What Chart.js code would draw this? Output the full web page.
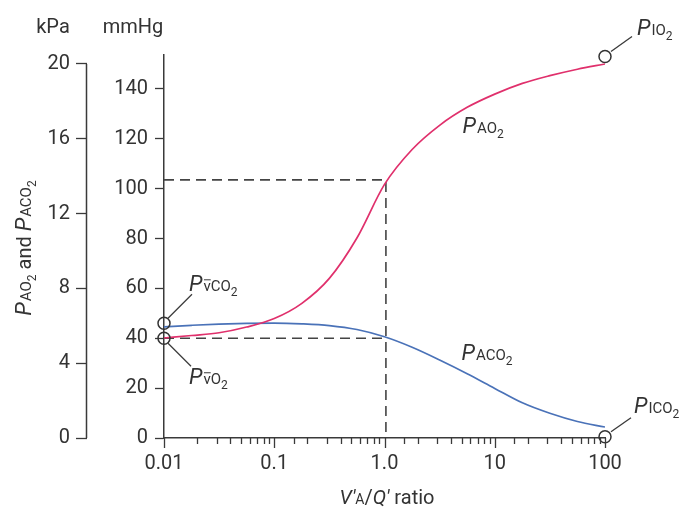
<!DOCTYPE html>
<html>
<head>
<meta charset="utf-8">
<title>Alveolar gas tensions vs V/Q ratio</title>
<script src="https://cdn.jsdelivr.net/npm/chart.js@4.4.1/dist/chart.umd.min.js"></script>
<style>
  html, body { margin: 0; padding: 0; background: #fff; }
  #wrap { width: 679px; height: 512px; }
</style>
</head>
<body>
<div id="wrap"><canvas id="chart" width="679" height="512"></canvas></div>
<script>
// ─── Data ───────────────────────────────────────────────────

// V'A/Q' ratio, read at quarter-decade steps
const ratio = [0.01, 0.0178, 0.0316, 0.0562, 0.1, 0.178, 0.316, 0.562, 1,
               1.78, 3.16, 5.62, 10, 17.8, 31.6, 56.2, 100];

// P_AO2 (mmHg)
const pao2 = [40.1, 41.1, 42.2, 44.5, 47.9, 54.0, 64.0, 80.2, 101.7,
              115.7, 125.4, 132.6, 137.9, 142.2, 145.3, 147.9, 150];

// P_ACO2 (mmHg)
const paco2 = [44.6, 45.2, 45.7, 46.0, 46.1, 45.8, 45.1, 43.5, 40.6,
               36.4, 31.3, 25.8, 19.9, 14.1, 9.9, 6.6, 4.4];

// open circles: mixed venous CO2 / O2, inspired O2 / CO2
const circleRatio = [0.01, 0.01, 100, 100];
const circleValue = [46, 40, 153, 0.5];

// dashed guides at V'A/Q' ≈ 1
const guideRatio = 1.03;
const guideHigh = 103.5;
const guideLow = 40;

// axis ticks
const xMajorTicks = [0.01, 0.1, 1, 10, 100];
const xMajorLabels = ['0.01', '0.1', '1.0', '10', '100'];
const mmHgTicks = [0, 20, 40, 60, 80, 100, 120, 140];
const kPaTicks = [0, 4, 8, 12, 16, 20];
const mmHgMax = 153.6;
const MM_PER_KPA = 7.50062;

// ─── Style ──────────────────────────────────────────────────

const FONT = 'Roboto, "DejaVu Sans", sans-serif';
const INK = '#333';
const AXIS = '#3a3a3a';
const PINK = '#e0306c';
const BLUE = '#4a72b8';

const P = t => ({ t, font: `italic 22px ${FONT}`, dx: 1 });
const SM = t => ({ t, font: `15px ${FONT}` });
const SUB = t => ({ t, font: `12px ${FONT}`, dy: 5 });
const VBAR = { t: 'v', font: `15px ${FONT}`, bar: 11.5 };

function richText(ctx, parts, x, y, draw = true) {
  let cx = x;
  for (const p of parts) {
    ctx.font = p.font;
    const w = ctx.measureText(p.t).width;
    if (draw) {
      ctx.fillText(p.t, cx, y + (p.dy || 0));
      if (p.bar) {
        ctx.beginPath();
        ctx.moveTo(cx + 0.5, y - p.bar);
        ctx.lineTo(cx + w, y - p.bar);
        ctx.stroke();
      }
    }
    cx += w + (p.dx || 0);
  }
  return cx - x;
}

function isMajor(v) {
  const l = Math.log10(v);
  return Math.abs(l - Math.round(l)) < 1e-6;
}

function majorLabel(v) {
  const i = xMajorTicks.findIndex(t => Math.abs(Math.log10(t) - Math.log10(v)) < 1e-6);
  return i >= 0 ? xMajorLabels[i] : '';
}

// ─── Decorations plugin ─────────────────────────────────────

// leader lines + labels, offsets in px from the circle centre
const circleLabels = [
  { parts: [P('P'), VBAR, SM('CO'), SUB('2')], from: [4, -5], to: [28, -29], text: [25, -32] },
  { parts: [P('P'), VBAR, SM('O'), SUB('2')], from: [4, 5], to: [27, 28], text: [25, 46] },
  { parts: [P('P'), SM('IO'), SUB('2')], from: [6, -5], to: [27, -20], text: [32, -21] },
  { parts: [P('P'), SM('ICO'), SUB('2')], from: [6, -5], to: [26, -19], text: [29, -24] },
];

const curveLabels = [
  { parts: [P('P'), SM('AO'), SUB('2')], at: [5.1, 122.3] },
  { parts: [P('P'), SM('ACO'), SUB('2')], at: [5.0, 31.3] },
];

const decorations = {
  id: 'decorations',
  afterDraw(chart) {
    const { ctx, scales } = chart;
    const xs = scales.x, ys = scales.y, ks = scales.kpa;
    ctx.save();
    ctx.strokeStyle = AXIS;
    ctx.fillStyle = INK;
    ctx.lineWidth = 1.3;

    // x tick marks (minor short, major long)
    for (const t of xs.ticks) {
      const px = Math.round(xs.getPixelForValue(t.value)) + 0.5;
      ctx.beginPath();
      ctx.moveTo(px, xs.top);
      ctx.lineTo(px, xs.top + (isMajor(t.value) ? 10 : 6));
      ctx.stroke();
    }

    // kPa axis line, 0..20 only
    ctx.lineWidth = 1.5;
    ctx.beginPath();
    ctx.moveTo(ks.right - 0.5, ks.getPixelForValue(20));
    ctx.lineTo(ks.right - 0.5, ks.getPixelForValue(0));
    ctx.stroke();

    // leader lines and circle labels
    ctx.lineWidth = 1.3;
    ctx.textBaseline = 'alphabetic';
    ctx.textAlign = 'left';
    circleLabels.forEach((lab, i) => {
      const cx = xs.getPixelForValue(circleRatio[i]);
      const cy = ys.getPixelForValue(circleValue[i]);
      ctx.beginPath();
      ctx.moveTo(cx + lab.from[0], cy + lab.from[1]);
      ctx.lineTo(cx + lab.to[0], cy + lab.to[1]);
      ctx.stroke();
      ctx.lineWidth = 1;
      richText(ctx, lab.parts, cx + lab.text[0], cy + lab.text[1]);
      ctx.lineWidth = 1.3;
    });

    curveLabels.forEach(lab => {
      richText(ctx, lab.parts, xs.getPixelForValue(lab.at[0]), ys.getPixelForValue(lab.at[1]));
    });

    // unit headings
    ctx.font = `20px ${FONT}`;
    ctx.textAlign = 'center';
    ctx.fillText('kPa', 53, 33);
    ctx.fillText('mmHg', 133, 33);
    ctx.textAlign = 'left';

    // y title (rotated)
    const yTitle = [P('P'), SM('AO'), SUB('2'), { t: ' and ', font: `20px ${FONT}` }, P('P'), SM('ACO'), SUB('2')];
    ctx.save();
    ctx.translate(31, 248);
    ctx.rotate(-Math.PI / 2);
    const yw = richText(ctx, yTitle, 0, 0, false);
    richText(ctx, yTitle, -yw / 2, 0);
    ctx.restore();

    // x title
    const xTitle = [
      { t: 'V', font: `italic 20px ${FONT}` },
      { t: "'", font: `italic 20px ${FONT}` },
      { t: 'A', font: `14px ${FONT}` },
      { t: '/', font: `20px ${FONT}` },
      { t: 'Q', font: `italic 20px ${FONT}` },
      { t: "'", font: `italic 20px ${FONT}` },
      { t: ' ratio', font: `20px ${FONT}` },
    ];
    const xw = richText(ctx, xTitle, 0, 0, false);
    richText(ctx, xTitle, 387 - xw / 2, 504);

    ctx.restore();
  },
};

// ─── Chart ──────────────────────────────────────────────────

const toPoints = (xs, ys) => xs.map((x, i) => ({ x, y: ys[i] }));

const tickFont = { family: FONT, size: 20 };

new Chart(document.getElementById('chart'), {
  type: 'line',
  data: {
    datasets: [
      {
        label: 'PAO2',
        data: toPoints(ratio, pao2),
        borderColor: PINK,
        borderWidth: 1.7,
        pointRadius: 0,
        cubicInterpolationMode: 'monotone',
        order: 1,
      },
      {
        label: 'PACO2',
        data: toPoints(ratio, paco2),
        borderColor: BLUE,
        borderWidth: 1.7,
        pointRadius: 0,
        cubicInterpolationMode: 'monotone',
        order: 1,
      },
      {
        label: 'guide high',
        data: [{ x: 0.01, y: guideHigh }, { x: guideRatio, y: guideHigh }, { x: guideRatio, y: 0 }],
        borderColor: '#444',
        borderWidth: 1.6,
        borderDash: [10, 6],
        pointRadius: 0,
        tension: 0,
        order: 3,
      },
      {
        label: 'guide low',
        data: [{ x: 0.01, y: guideLow }, { x: guideRatio, y: guideLow }],
        borderColor: '#444',
        borderWidth: 1.6,
        borderDash: [10, 6],
        pointRadius: 0,
        tension: 0,
        order: 3,
      },
      {
        label: 'end points',
        type: 'scatter',
        data: toPoints(circleRatio, circleValue),
        showLine: false,
        pointRadius: 6,
        pointBackgroundColor: 'rgba(255,255,255,0)',
        pointBorderColor: INK,
        pointBorderWidth: 1.5,
        clip: false,
        order: 0,
      },
    ],
  },
  options: {
    responsive: false,
    devicePixelRatio: 1,
    animation: false,
    events: [],
    layout: { padding: { left: 40, right: 74, top: 55, bottom: 34 } },
    plugins: {
      legend: { display: false },
      tooltip: { enabled: false },
    },
    scales: {
      x: {
        type: 'logarithmic',
        min: 0.01,
        max: 100,
        grid: { display: false, drawTicks: false },
        border: { display: true, color: AXIS, width: 1.5 },
        ticks: {
          autoSkip: false,
          maxRotation: 0,
          padding: 14,
          color: INK,
          font: tickFont,
          callback: v => majorLabel(v),
        },
        afterFit: s => { s.height = 40; },
      },
      y: {
        type: 'linear',
        position: 'left',
        weight: 0,
        min: 0,
        max: mmHgMax,
        afterBuildTicks: s => { s.ticks = mmHgTicks.map(value => ({ value })); },
        grid: { display: true, drawOnChartArea: false, drawTicks: true, tickLength: 9, tickColor: AXIS, tickWidth: 1.3 },
        border: { display: true, color: AXIS, width: 1.5 },
        ticks: { padding: 7, color: INK, font: tickFont },
        afterFit: s => { s.width = 77; },
      },
      kpa: {
        type: 'linear',
        position: 'left',
        weight: 1,
        min: 0,
        max: mmHgMax / MM_PER_KPA,
        afterBuildTicks: s => { s.ticks = kPaTicks.map(value => ({ value })); },
        grid: { display: true, drawOnChartArea: false, drawTicks: true, tickLength: 11, tickColor: AXIS, tickWidth: 1.3 },
        border: { display: false },
        ticks: { padding: 6, color: INK, font: tickFont },
        afterFit: s => { s.width = 47; },
      },
    },
  },
  plugins: [decorations],
});
</script>
</body>
</html>
